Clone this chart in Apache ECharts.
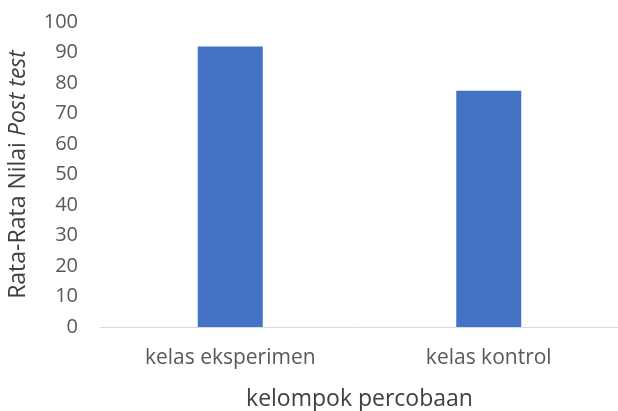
<!DOCTYPE html>
<html>
<head>
<meta charset="utf-8">
<script src="https://cdn.jsdelivr.net/npm/echarts@6/dist/echarts.min.js"></script>
<style>
html,body{margin:0;padding:0;background:#fff;}
#main{width:618px;height:411px;}
</style>
</head>
<body>
<div id="main"></div>
<script>
// data
var categories = ["kelas eksperimen", "kelas kontrol"];
var nilaiPostTest = [92, 77.5];
var yTicks = [0, 10, 20, 30, 40, 50, 60, 70, 80, 90, 100];

var myChart = echarts.init(document.getElementById('main'));
var font = "'Open Sans', 'Liberation Sans', sans-serif";
var option = {
    animation: false,
    grid: { left: 101, right: 0, top: 22, bottom: 84, outerBoundsMode: 'none' },
    xAxis: {
        type: 'category',
        data: categories,
        name: 'kelompok percobaan',
        nameLocation: 'middle',
        nameGap: 61,
        nameTextStyle: { fontFamily: font, fontSize: 23, color: '#404040' },
        axisLine: { lineStyle: { color: '#d9d9d9', width: 1 } },
        axisTick: { show: false },
        axisLabel: { fontFamily: font, fontSize: 21, color: '#595959', margin: 21 }
    },
    yAxis: {
        type: 'value',
        min: yTicks[0],
        max: yTicks[yTicks.length - 1],
        interval: 10,
        name: '{n|Rata-Rata Nilai }{i|Post test}',
        nameLocation: 'middle',
        nameRotate: 90,
        nameGap: 71,
        nameTextStyle: {
            rich: {
                n: { fontFamily: font, fontSize: 23, color: '#404040' },
                i: { fontFamily: font, fontSize: 23, color: '#404040', fontStyle: 'italic' }
            }
        },
        axisLine: { show: false },
        axisTick: { show: false },
        splitLine: { show: false },
        axisLabel: { fontFamily: font, fontSize: 20, color: '#595959', margin: 23 }
    },
    series: [{
        type: 'bar',
        data: nilaiPostTest,
        barWidth: 65,
        itemStyle: { color: '#4472c4' }
    }]
};
myChart.setOption(option);
</script>
</body>
</html>
